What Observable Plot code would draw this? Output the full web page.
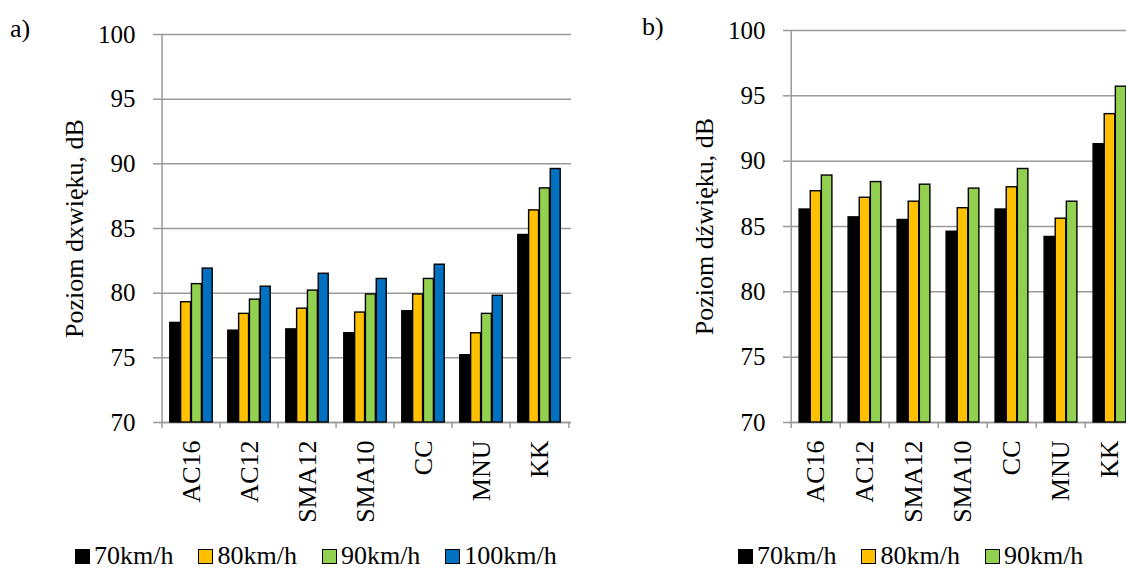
<!DOCTYPE html>
<html><head><meta charset="utf-8">
<script src="https://cdn.jsdelivr.net/npm/d3@7"></script>
<script src="https://cdn.jsdelivr.net/npm/@observablehq/plot@0.6"></script>
<style>
html,body{margin:0;padding:0;background:#fff;overflow:hidden;}
body{width:1126px;height:571px;position:relative;font-family:"Liberation Serif","Times New Roman",serif;color:#000;}
.panel{position:absolute;top:0;z-index:1;}
.panel svg{max-width:none !important;}
.tag{position:absolute;font-size:26px;line-height:26px;z-index:2;}
.legend{position:absolute;top:543px;display:flex;align-items:baseline;font-size:26px;line-height:26px;white-space:nowrap;z-index:2;}
.item{display:flex;align-items:baseline;margin-right:25px;}
.sw{display:inline-block;width:13px;height:13px;border:1px solid #000;margin-right:4px;}
</style></head><body>
<div id="a" class="panel" style="left:0;width:580px"></div>
<div id="b" class="panel" style="left:600px;width:545px"></div>
<div class="tag" style="left:10px;top:16px">a)</div>
<div class="tag" style="left:642px;top:14px">b)</div>
<div id="legA" class="legend" style="left:75px"></div>
<div id="legB" class="legend" style="left:738px"></div>
<script>
const categories = ["AC16","AC12","SMA12","SMA10","CC","MNU","KK"];
const speedsA = ["70km/h","80km/h","90km/h","100km/h"];
const speedsB = ["70km/h","80km/h","90km/h"];
const colors = ["#000000","#FFC000","#92D050","#0070C0"];
const yTicks = [70,75,80,85,90,95,100];
const titleA = "Poziom dxwięku, dB";
const titleB = "Poziom dźwięku, dB";

// panel a
const a70  = [77.7,77.1,77.2,76.9,78.6,75.2,84.5];
const a80  = [79.3,78.4,78.8,78.5,79.9,76.9,86.4];
const a90  = [80.7,79.5,80.2,79.9,81.1,78.4,88.1];
const a100 = [81.9,80.5,81.5,81.1,82.2,79.8,89.6];
// panel b
const b70 = [86.3,85.7,85.5,84.6,86.3,84.2,91.3];
const b80 = [87.7,87.2,86.9,86.4,88.0,85.6,93.6];
const b90 = [88.9,88.4,88.2,87.9,89.4,86.9,95.7];

const gray = "#9a9a9a";

function drawPanel(el, {series, speeds, width, height, mL, mR, mT, mB, group, title}) {
  const rows = [];
  series.forEach((vals, j) => vals.forEach((v, i) => rows.push({cat: categories[i], speed: speeds[j], value: v})));
  const step = (width - mL - mR) / categories.length;
  const off = step * (1 - group) / 2;
  const bw = step * group / speeds.length;
  const bars = speeds.map((s, j) => Plot.barY(rows.filter(d => d.speed === s), {
    x: "cat", y1: yTicks[0], y2: "value", fill: colors[j], stroke: "#000", strokeWidth: 1.4,
    insetLeft: off + j * bw, insetRight: step - off - (j + 1) * bw
  }));
  const plot = Plot.plot({
    width, height, marginLeft: mL, marginRight: mR, marginTop: mT, marginBottom: mB,
    style: {fontFamily: '"Liberation Serif","Times New Roman",serif', fontSize: "25px", color: "#000", background: "transparent", overflow: "visible", maxWidth: "none"},
    x: {type: "band", domain: categories, padding: 0, label: null},
    y: {domain: [yTicks[0], yTicks[yTicks.length - 1]], label: null},
    marks: [
      Plot.gridY(yTicks, {stroke: gray, strokeOpacity: 1, strokeWidth: 1.5}),
      Plot.axisY(yTicks, {tickSize: 6, tickPadding: 18, stroke: gray, strokeOpacity: 1, strokeWidth: 1.5, fontSize: 25, label: null}),
      Plot.gridX([categories[0]], {dx: -step / 2, stroke: gray, strokeOpacity: 1, strokeWidth: 1.5}),
      Plot.ruleY([yTicks[0]], {stroke: gray, strokeWidth: 1.5}),
      Plot.axisX(categories, {tickSize: 6, dx: -step / 2, tickFormat: () => "", stroke: gray, strokeWidth: 1.5, label: null}),
      Plot.axisX([categories[categories.length - 1]], {tickSize: 6, dx: step / 2, tickFormat: () => "", stroke: gray, strokeWidth: 1.5, label: null}),
      Plot.axisX(categories, {tickSize: 0, tickRotate: -90, tickPadding: 18, fontSize: 26, label: null}),
      ...bars,
      Plot.text([title], {frameAnchor: "left", textAnchor: "middle", dx: -85, rotate: -90, fontSize: 26, text: d => d})
    ]
  });
  el.appendChild(plot);
}

drawPanel(document.getElementById("a"), {
  series: [a70, a80, a90, a100], speeds: speedsA,
  width: 580, height: 520, mL: 159, mR: 9, mT: 34, mB: 98, group: 0.735, title: titleA
});
drawPanel(document.getElementById("b"), {
  series: [b70, b80, b90], speeds: speedsB,
  width: 545, height: 520, mL: 189, mR: 9, mT: 30, mB: 98, group: 0.673, title: titleB
});

function legend(el, speeds) {
  speeds.forEach((s, j) => {
    const it = document.createElement("span");
    it.className = "item";
    const sw = document.createElement("span");
    sw.className = "sw";
    sw.style.background = colors[j];
    const tx = document.createElement("span");
    tx.textContent = s;
    it.appendChild(sw); it.appendChild(tx);
    el.appendChild(it);
  });
}
legend(document.getElementById("legA"), speedsA);
legend(document.getElementById("legB"), speedsB);
</script>
</body></html>
